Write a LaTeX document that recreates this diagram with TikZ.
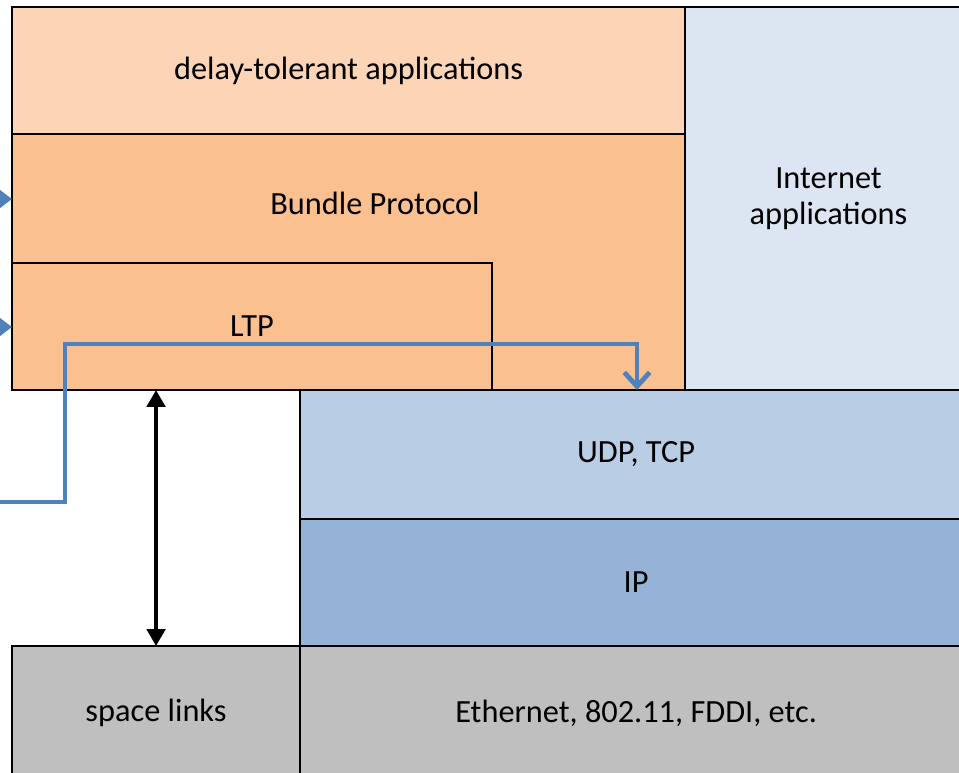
\documentclass[tikz,border=0pt]{standalone}
\usepackage{fontspec}
\setmainfont{Carlito}
\usetikzlibrary{arrows.meta, positioning}

\definecolor{dtnlight}{HTML}{FBD5B5}
\definecolor{dtnmid}{HTML}{FAC090}
\definecolor{inetlight}{HTML}{DCE6F2}
\definecolor{inetmid}{HTML}{B9CDE5}
\definecolor{inetdark}{HTML}{95B3D7}
\definecolor{linkgrey}{HTML}{BFBFBF}
\definecolor{flowblue}{HTML}{4F81BD}

\begin{document}
\begin{tikzpicture}[x=0.025cm, y=-0.025cm,
		layer/.style={draw=black, line width=1.8pt, inner sep=0pt, outer sep=0pt, anchor=north west, align=center, font=\fontsize{23}{26}\selectfont},
		txt/.style={inner sep=0pt, font=\fontsize{23}{26}\selectfont},
		flow/.style={draw=flowblue, line width=3.4pt},
	]
		\path[use as bounding box, clip] (0,0) rectangle (959,772);

		% DTN stack
		\node[layer, fill=dtnlight, minimum width=16.825cm, minimum height=3.175cm] (dta) at (12,7) {delay-tolerant applications};
		\node[layer, fill=dtnmid, minimum width=16.825cm, minimum height=6.4cm] (bp) at (12,134) {};
		\node[txt] (bptext) at (375,203) {Bundle Protocol};
		\node[layer, fill=dtnmid, minimum width=12cm, minimum height=3.175cm] (ltp) at (12,263) {LTP};

		% Internet stack
		\node[layer, fill=inetlight, minimum width=7.175cm, minimum height=9.575cm] (inet) at (685,7) {Internet\\applications};
		\node[layer, fill=inetmid, minimum width=16.8cm, minimum height=3.225cm] (udp) at (300,390) {UDP, TCP};
		\node[layer, fill=inetdark, minimum width=16.8cm, minimum height=3.175cm] (ip) at (300,519) {IP};

		% links
		\node[layer, fill=linkgrey, minimum width=7.2cm, minimum height=3.35cm] (space) at (12,646) {space links};
		\node[layer, fill=linkgrey, minimum width=16.8cm, minimum height=3.35cm] (eth) at (300,646) {Ethernet, 802.11, FDDI, etc.};

		% incoming arrows from the left
		\coordinate (bpin) at (-60,199);
		\coordinate (ltpin) at (-60,327);
		\draw[flow, -{Triangle[length=9pt, width=13pt]}] (bpin) -- (bpin -| bp.west);
		\draw[flow, -{Triangle[length=9pt, width=13pt]}] (ltpin) -- (ltpin -| ltp.west);

		% path into the Internet stack
		\coordinate (start) at (-10,502);
		\coordinate (turn) at (65,344);
		\coordinate (udpin) at (637,390);
		\draw[flow, line join=miter, -{Straight Barb[length=10pt, width=18pt, line width=3.4pt]}] (start) -| (turn) -| (udpin);

		\draw[line width=2.8pt, {Triangle[length=12pt, width=13pt]}-{Triangle[length=12pt, width=13pt]}] (space.north |- ltp.south) -- (space.north);
	\end{tikzpicture}
\end{document}
